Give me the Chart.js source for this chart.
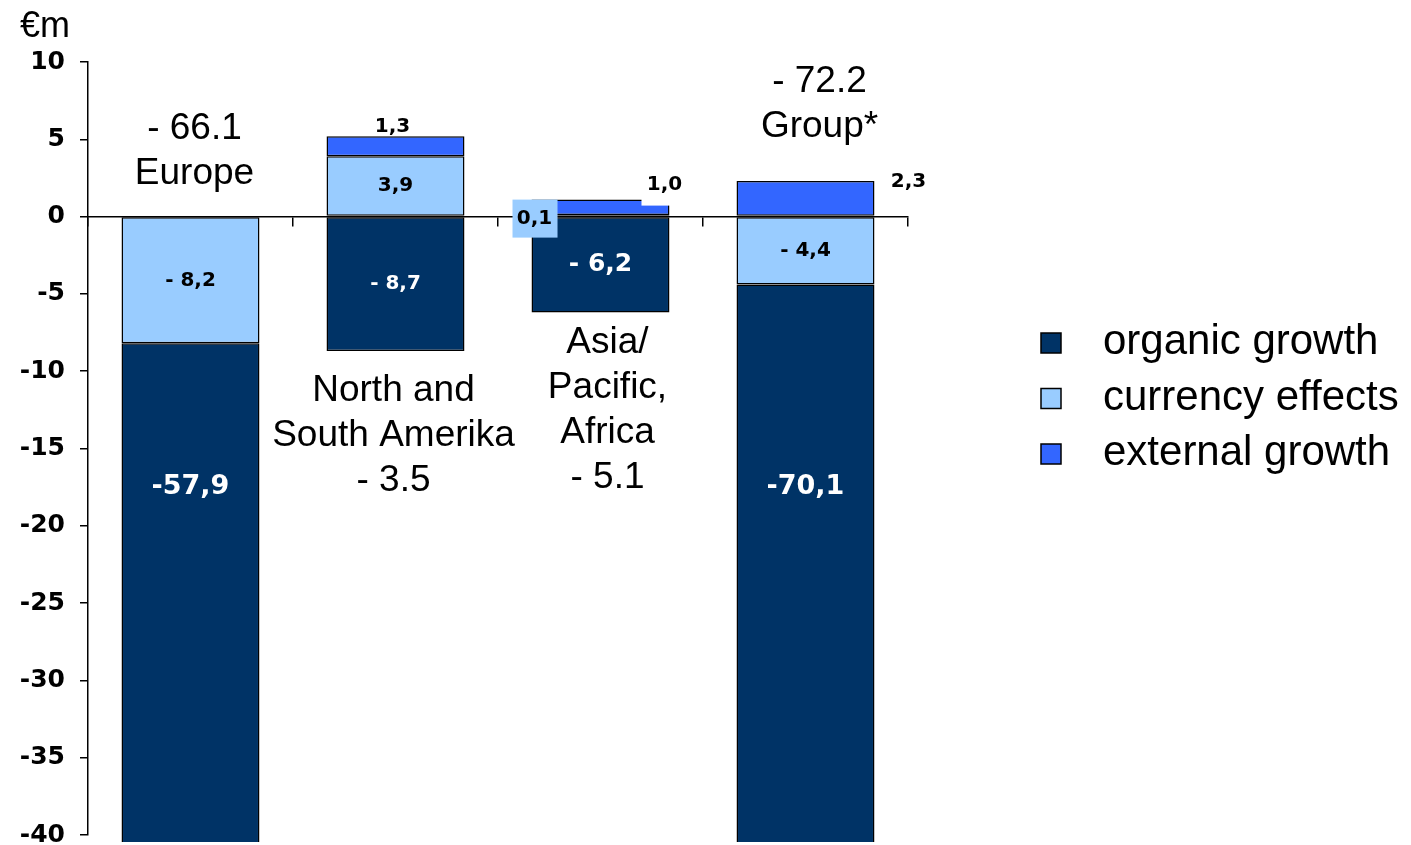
<!DOCTYPE html>
<html>
<head>
<meta charset="utf-8">
<title>Sales change by region</title>
<script src="https://cdn.jsdelivr.net/npm/chart.js@4.4.1/dist/chart.umd.min.js"></script>
<style>
html, body { margin: 0; padding: 0; background: #fff; }
#wrap { width: 1411px; height: 845px; position: relative; }
</style>
</head>
<body>
<div id="wrap"><canvas id="chart"></canvas></div>
<script>
(function(){
// regions and the text lines written next to each bar (total is added from the data)
const regions = ['Europe', 'North and South Amerika', 'Asia/Pacific, Africa', 'Group*'];
const regionLines = [['Europe'], ['North and', 'South Amerika'], ['Asia/', 'Pacific,', 'Africa'], ['Group*']];

// €m change per region
const currencyEffects = [-8.2, 3.9, 0.1, -4.4];
const organicGrowth   = [-57.9, -8.7, -6.2, -70.1];
const externalGrowth  = [0.0, 1.3, 1.0, 2.3];

const yTicks = [10, 5, 0, -5, -10, -15, -20, -25, -30, -35, -40];

const ORGANIC = '#003366', CURRENCY = '#99CCFF', EXTERNAL = '#3366FF';
const TEXT_FONT = '"Liberation Sans", Arial, sans-serif';
const LABEL_FONT = '"DejaVu Sans", Verdana, sans-serif';

// value labels: colour, font size and where each one sits
const labelStyle = [
    { color: '#000', size: [20, 20, 20, 20], spot: ['in', 'in', 'boxLeft', 'in'] },     // currency
    { color: '#fff', size: [27, 20, 25, 27], spot: ['in', 'in', 'in', 'in'] },          // organic
    { color: '#000', size: [20, 20, 20, 20], spot: ['left', 'above', 'boxRight', 'right'] } // external
];
const clippedLabelValue = -17.5;

// region notes: horizontal nudge, first baseline (axis value), total on top or below
const noteLayout = [
    { dx: 4, at: 5.0, totalFirst: true },
    { dx: -2, at: -11.95, totalFirst: false },
    { dx: 7, at: -8.85, totalFirst: false },
    { dx: 14, at: 8.05, totalFirst: true }
];
const noteLineHeight = 45;

const legendOrder = [1, 0, 2];

function fmtValue(v){
    const s = Math.abs(v).toFixed(1).replace('.', ',');
    if (v < 0) return Math.abs(v) < 10 ? '- ' + s : '-' + s;
    return s;
}
function fmtTotal(v){
    return (v < 0 ? '- ' : '') + Math.abs(v).toFixed(1);
}

const valueLabels = {
    id: 'valueLabels',
    afterDatasetsDraw(chart){
        const ctx = chart.ctx, y = chart.scales.y, area = chart.chartArea;
        const zero = y.getPixelForValue(0);
        ctx.save();
        ctx.textAlign = 'center';
        ctx.textBaseline = 'middle';
        chart.data.datasets.forEach((ds, di) => {
            const st = labelStyle[di];
            chart.getDatasetMeta(di).data.forEach((bar, i) => {
                const v = ds.data[i];
                const left = bar.x - bar.width / 2, right = bar.x + bar.width / 2;
                const txt = fmtValue(v);
                ctx.font = 'bold ' + st.size[i] + 'px ' + LABEL_FONT;
                let tx = bar.x, ty;
                switch (st.spot[i]) {
                    case 'in': {
                        const lo = Math.max(bar.y, bar.base) > area.bottom;
                        ty = lo ? y.getPixelForValue(clippedLabelValue) : (bar.y + bar.base) / 2;
                        break;
                    }
                    case 'left':
                        tx = left - 28; ty = bar.y - 6; break;
                    case 'above':
                        tx = bar.x - 3; ty = bar.y - 9; break;
                    case 'right':
                        tx = right + 34; ty = bar.y + 1; break;
                    case 'boxLeft':
                        ctx.fillStyle = CURRENCY;
                        ctx.fillRect(left - 19, zero - 17, 45, 38);
                        tx = left + 3; ty = zero + 2; break;
                    case 'boxRight':
                        ctx.fillStyle = '#fff';
                        ctx.fillRect(right - 28, bar.y - 36, 47, 42);
                        tx = right - 5; ty = bar.y - 15; break;
                }
                ctx.fillStyle = st.color;
                ctx.fillText(txt, tx, ty);
            });
        });
        ctx.restore();
    }
};

const regionNotes = {
    id: 'regionNotes',
    afterDraw(chart){
        const ctx = chart.ctx, x = chart.scales.x, y = chart.scales.y;
        ctx.save();
        ctx.fillStyle = '#000';
        ctx.textAlign = 'center';
        ctx.textBaseline = 'alphabetic';
        ctx.font = '37px ' + TEXT_FONT;
        regions.forEach((r, i) => {
            const total = currencyEffects[i] + organicGrowth[i] + externalGrowth[i];
            const lay = noteLayout[i];
            const lines = lay.totalFirst ? [fmtTotal(total)].concat(regionLines[i]) : regionLines[i].concat([fmtTotal(total)]);
            const cx = x.getPixelForValue(i) + lay.dx;
            const y0 = y.getPixelForValue(lay.at);
            lines.forEach((t, k) => ctx.fillText(t, cx, y0 + k * noteLineHeight));
        });
        // unit
        ctx.textAlign = 'left';
        ctx.font = '36px ' + TEXT_FONT;
        ctx.fillText('€m', 20, 37);
        ctx.restore();
    }
};

const sideLegend = {
    id: 'sideLegend',
    afterDraw(chart){
        const ctx = chart.ctx;
        ctx.save();
        ctx.font = '42px ' + TEXT_FONT;
        ctx.textAlign = 'left';
        ctx.textBaseline = 'alphabetic';
        legendOrder.forEach((di, k) => {
            const ds = chart.data.datasets[di];
            const cy = 343 + k * 55.5;
            ctx.fillStyle = ds.backgroundColor;
            ctx.fillRect(1041, cy - 10, 20, 20);
            ctx.strokeStyle = '#000';
            ctx.lineWidth = 1.5;
            ctx.strokeRect(1041, cy - 10, 20, 20);
            ctx.fillStyle = '#000';
            ctx.fillText(ds.label, 1103, cy + 11);
        });
        ctx.restore();
    }
};

const barStyle = { borderColor: '#000', borderWidth: 1.5, borderSkipped: false, barPercentage: 0.673, categoryPercentage: 1 };

new Chart(document.getElementById('chart'), {
    type: 'bar',
    data: {
        labels: regions,
        datasets: [
            Object.assign({ label: 'currency effects', data: currencyEffects, backgroundColor: CURRENCY }, barStyle),
            Object.assign({ label: 'organic growth', data: organicGrowth, backgroundColor: ORGANIC, clip: { left: 0, top: 0, right: 0, bottom: 7 } }, barStyle),
            Object.assign({ label: 'external growth', data: externalGrowth, backgroundColor: EXTERNAL }, barStyle)
        ]
    },
    options: {
        responsive: true,
        maintainAspectRatio: false,
        animation: false,
        layout: { padding: { top: 62, bottom: 10, left: 0, right: 503 } },
        plugins: { legend: { display: false }, tooltip: { enabled: false } },
        scales: {
            x: {
                type: 'category',
                stacked: true,
                position: { y: 0 },
                offset: true,
                grid: { display: true, drawOnChartArea: false, drawTicks: true, tickLength: 9, offset: true, color: '#000', lineWidth: 1.5 },
                border: { display: true, color: '#000', width: 1.5 },
                ticks: { display: false }
            },
            y: {
                stacked: true,
                min: -40,
                max: 10,
                afterBuildTicks: s => { s.ticks = yTicks.map(v => ({ value: v })); },
                afterFit: s => { s.width = 88; s.paddingTop = 0; s.paddingBottom = 0; },
                grid: { drawOnChartArea: false, drawTicks: true, tickLength: 8, color: '#000', lineWidth: 1.5 },
                border: { display: true, color: '#000', width: 1.5 },
                ticks: { color: '#000', padding: 15, font: { family: 'DejaVu Sans', weight: 'bold', size: 25 } }
            }
        }
    },
    plugins: [valueLabels, regionNotes, sideLegend]
});
})();
</script>
</body>
</html>
